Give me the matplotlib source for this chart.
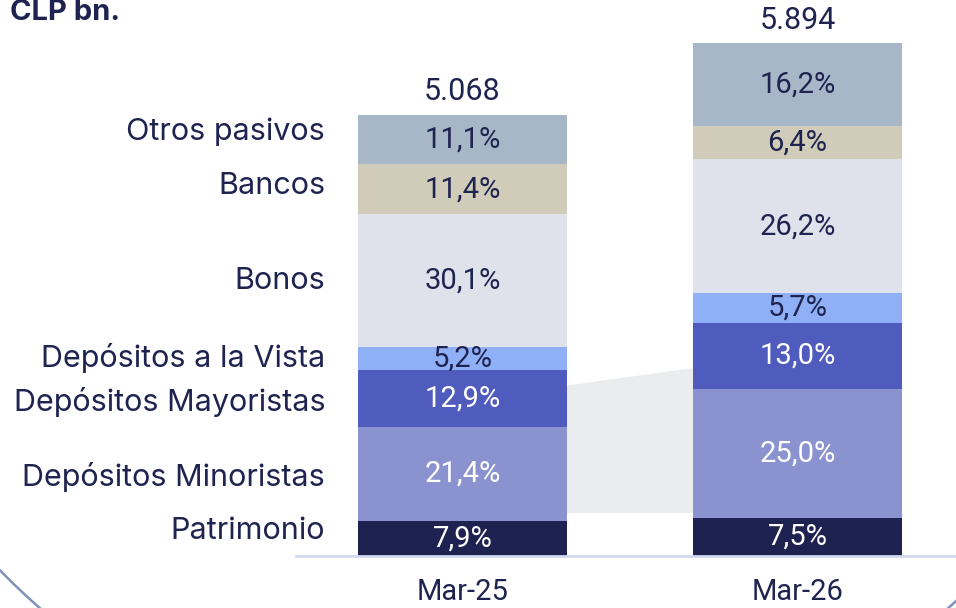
import matplotlib
matplotlib.use("Agg")
import matplotlib.pyplot as plt
from matplotlib.patches import Circle, Polygon
from matplotlib import font_manager

# ---------------- data ----------------
periods = ["Mar-25", "Mar-26"]
totals = [5068, 5894]
total_labels = ["5.068", "5.894"]
components = ["Patrimonio", "Depósitos Minoristas", "Depósitos Mayoristas",
              "Depósitos a la Vista", "Bonos", "Bancos", "Otros pasivos"]
share_mar25 = [7.9, 21.4, 12.9, 5.2, 30.1, 11.4, 11.1]
share_mar26 = [7.5, 25.0, 13.0, 5.7, 26.2, 6.4, 16.2]
pct_labels_mar25 = ["7,9%", "21,4%", "12,9%", "5,2%", "30,1%", "11,4%", "11,1%"]
pct_labels_mar26 = ["7,5%", "25,0%", "13,0%", "5,7%", "26,2%", "6,4%", "16,2%"]
unit_label = "CLP bn."

# ---------------- style ----------------
colors = ["#1e2250", "#8a93d0", "#4f5bbd", "#8fb0f7", "#dfe2ea", "#d0ccb9", "#a8b7c8"]
light_text = [True, True, True, False, False, False, False]
label_offsets = [90, -40, -40, 0, 0, 40, 90]  # small vertical nudges of left labels
DARK = "#1f2350"

available = {f.name for f in font_manager.fontManager.ttflist}
label_font = "Inter" if "Inter" in available else "DejaVu Sans"
num_font = "Roboto" if "Roboto" in available else "DejaVu Sans"

W, H = 956, 608
fig = plt.figure(figsize=(W / 100, H / 100), dpi=100)

# background decoration axes in pixel coordinates
bg = fig.add_axes([0, 0, 1, 1], zorder=0)
bg.set_xlim(0, W)
bg.set_ylim(H, 0)
bg.axis("off")
bg.add_patch(Circle((494, 90), 689, fill=False, ec="#7f93b8", lw=1.8))
bg.text(10, 13, unit_label, fontsize=21, fontweight="bold", color=DARK,
        family=label_font, ha="left", va="center")

# main axes: bottom at y=556 px, left at x=296 px
ax_left = 296 / W
ax_bottom = 1 - 556 / H
ax = fig.add_axes([ax_left, ax_bottom, 1 - ax_left, 1 - ax_bottom], zorder=1)
ax.patch.set_alpha(0)
px_per_unit = 0.0870
ax.set_ylim(0, 556 / px_per_unit)
ax.set_xlim(-0.497, 1.473)
width = 0.624
xs = [0, 1]

# shaded connector between bars (decoration)
x0, x1 = xs[0] + width / 2, xs[1] - width / 2
ax.add_patch(Polygon([(x0, 494), (x1, 494), (x1, 2160), (x0, 1960)],
                     closed=True, fc="#ebecee", ec="none", zorder=0.5))

shares = [share_mar25, share_mar26]
pct_labels = [pct_labels_mar25, pct_labels_mar26]
for i, x in enumerate(xs):
    bottom = 0.0
    for j, comp in enumerate(components):
        h = totals[i] * shares[i][j] / 100.0
        ax.bar(x, h, width=width, bottom=bottom, color=colors[j],
               edgecolor="none", zorder=2)
        ax.text(x, bottom + h / 2, pct_labels[i][j], ha="center", va="center",
                fontsize=21, family=num_font,
                color="white" if light_text[j] else DARK, zorder=3)
        if i == 0:
            ax.text(-0.41, bottom + h / 2 + label_offsets[j], comp, ha="right",
                    va="center", fontsize=22, family=label_font, color=DARK,
                    clip_on=False)
        bottom += h
    ax.text(x, totals[i] + 100, total_labels[i], ha="center", va="bottom",
            fontsize=22, family=num_font, color=DARK)

for s in ["top", "right", "left"]:
    ax.spines[s].set_visible(False)
ax.spines["bottom"].set_color("#d3d8ef")
ax.spines["bottom"].set_linewidth(2)
ax.set_yticks([])
ax.set_xticks(xs)
ax.set_xticklabels(periods, fontsize=21, family=num_font, color=DARK)
ax.tick_params(axis="x", length=0, pad=16)

fig.savefig("out.png", dpi=100)
